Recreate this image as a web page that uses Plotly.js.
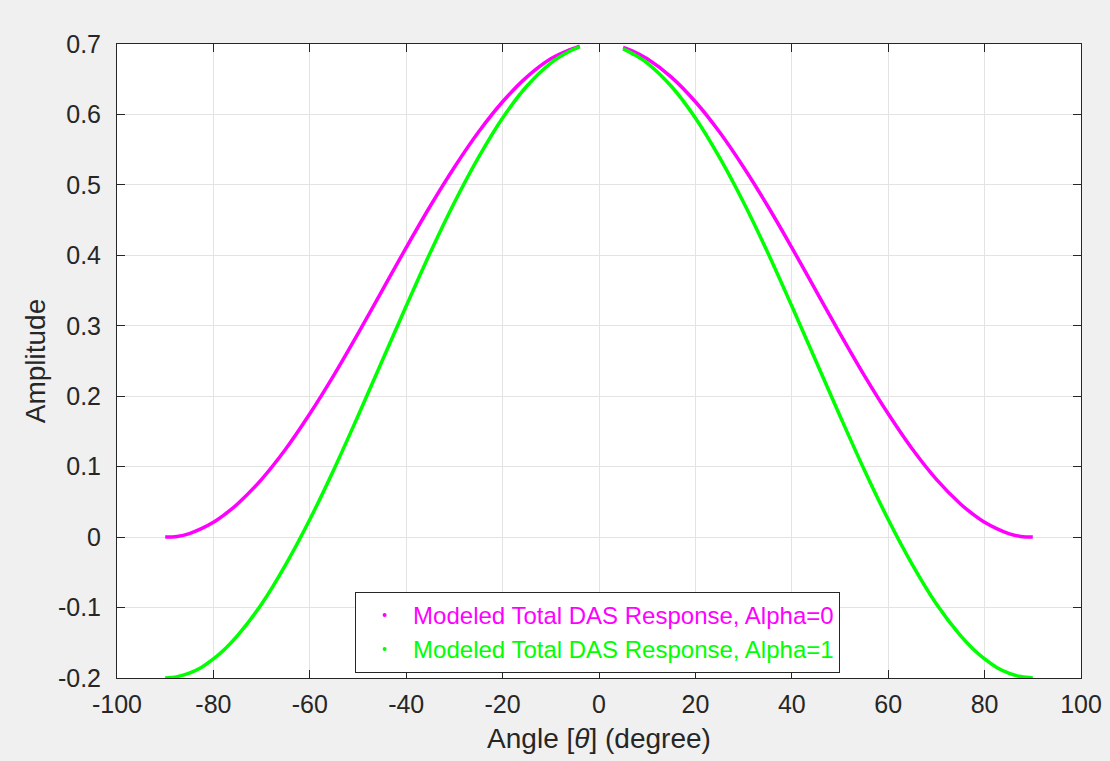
<!DOCTYPE html>
<html>
<head>
<meta charset="utf-8">
<script src="https://cdn.plot.ly/plotly-3.0.1.min.js"></script>
<style>html,body{margin:0;padding:0;background:#f0f0f0;}#chart{width:1110px;height:761px;}</style>
</head>
<body>
<div id="chart"></div>
<script>
// Angles (degrees); null marks the gap around 0
const angles = [-90,-87.5,-85,-82.5,-80,-77.5,-75,-70,-65,-60,-55,-50,-45,-40,-35,-30,-25,-20,-15,-10,-6,-4,
  null,
  5,7,10,15,20,25,30,35,40,45,50,55,60,65,70,75,77.5,80,82.5,85,87.5,90];
// Modeled Total DAS Response, Alpha=0 (magenta)
const alpha0 = [0.000,0.001,0.005,0.012,0.021,0.033,0.047,0.082,0.125,0.175,0.230,0.289,0.350,0.411,0.470,0.525,0.575,0.618,0.653,0.679,0.692,0.697,
  null,
  0.695,0.690,0.679,0.653,0.618,0.575,0.525,0.470,0.411,0.350,0.289,0.230,0.175,0.125,0.082,0.047,0.033,0.021,0.012,0.005,0.001,0.000];
// Modeled Total DAS Response, Alpha=1 (green)
const alpha1 = [-0.200,-0.198,-0.193,-0.185,-0.173,-0.158,-0.140,-0.095,-0.039,0.025,0.096,0.172,0.250,0.328,0.404,0.475,0.539,0.595,0.640,0.673,0.690,0.696,
  null,
  0.693,0.686,0.673,0.640,0.595,0.539,0.475,0.404,0.328,0.250,0.172,0.096,0.025,-0.039,-0.095,-0.140,-0.158,-0.173,-0.185,-0.193,-0.198,-0.200];
const seriesNames = ['Modeled Total DAS Response, Alpha=0','Modeled Total DAS Response, Alpha=1'];
const seriesColors = ['#ff00ff','#00ff00'];
const xTickVals = [-100,-80,-60,-40,-20,0,20,40,60,80,100];
const xTickText = ['-100','-80','-60','-40','-20','0','20','40','60','80','100'];
const yTickVals = [-0.2,-0.1,0,0.1,0.2,0.3,0.4,0.5,0.6,0.7];
const yTickText = ['-0.2','-0.1','0','0.1','0.2','0.3','0.4','0.5','0.6','0.7'];

const ys = [alpha0, alpha1];
const traces = [];
ys.forEach((y,i)=>{
  traces.push({x:angles, y:y, type:'scatter', mode:'lines', connectgaps:false,
    line:{color:seriesColors[i], width:3.5, shape:'spline', smoothing:1},
    showlegend:false, hoverinfo:'x+y'});
});
ys.forEach((y,i)=>{
  traces.push({x:[null], y:[null], type:'scatter', mode:'markers',
    marker:{color:seriesColors[i], size:4},
    name:'<span style="color:'+seriesColors[i]+'">'+seriesNames[i]+'</span>',
    showlegend:true});
});

const font = {family:'"Liberation Sans", Arial, sans-serif', color:'#262626'};
const axisCommon = {
  showline:true, linecolor:'#262626', linewidth:1, mirror:'ticks',
  ticks:'inside', ticklen:8, tickcolor:'#262626', tickwidth:1,
  showgrid:true, gridcolor:'#e3e3e3', gridwidth:1, zeroline:false,
  tickfont:{family:font.family, color:'#262626', size:25}
};
const layout = {
  width:1110, height:761,
  paper_bgcolor:'#f0f0f0', plot_bgcolor:'#ffffff',
  margin:{l:117, r:29, t:44, b:83},
  font:font,
  xaxis:Object.assign({}, axisCommon, {
    range:[-100,100], tickvals:xTickVals, ticktext:xTickText, ticklabelstandoff:4,
    title:{text:'Angle [<i>θ</i>] (degree)', font:{family:font.family, color:'#262626', size:28}, standoff:11}
  }),
  yaxis:Object.assign({}, axisCommon, {
    range:[-0.2,0.7], tickvals:yTickVals, ticktext:yTickText, ticklabelstandoff:10,
    title:{text:'Amplitude', font:{family:font.family, color:'#262626', size:28}, standoff:4}
  }),
  legend:{x:0.247, y:0.136, xanchor:'left', yanchor:'top',
    bgcolor:'#ffffff', bordercolor:'#262626', borderwidth:1, itemwidth:47,
    font:{family:font.family, size:24}, tracegroupgap:0},
  showlegend:true
};
Plotly.newPlot('chart', traces, layout, {displayModeBar:false, staticPlot:true});
</script>
</body>
</html>
